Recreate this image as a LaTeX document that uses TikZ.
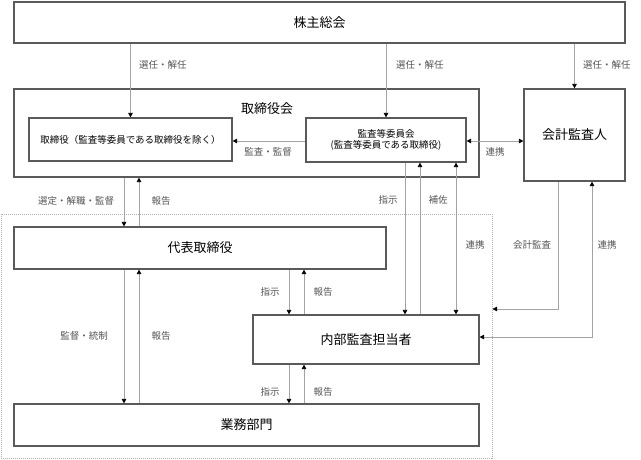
\documentclass[tikz,border=0pt]{standalone}
\usepackage{fontspec}
\setmainfont{Noto Sans CJK JP}
\usetikzlibrary{arrows.meta}
\definecolor{boxgray}{HTML}{5A5A5A}
\definecolor{linegray}{HTML}{A3A3A3}
\definecolor{txtgray}{HTML}{555555}
\tikzset{
  box/.style={draw=boxgray, line width=1.2pt, inner sep=0pt},
  frame/.style={draw=black!30, densely dotted, line width=1pt},
  conn/.style={draw=linegray, line width=0.8pt,
    -{Triangle[length=4.5pt, width=4.5pt, color=black]}},
  bothconn/.style={draw=linegray, line width=0.8pt,
    {Triangle[length=4.5pt, width=4.5pt, color=black]}-{Triangle[length=4.5pt, width=4.5pt, color=black]}},
  lbl/.style={font=\fontsize{9.5}{11}\selectfont, text=txtgray, inner sep=0pt},
  big/.style={font=\fontsize{13}{15}\selectfont},
  small/.style={font=\fontsize{9.5}{11.5}\selectfont, align=center}
}
\begin{document}
\begin{tikzpicture}[x=1pt,y=-1pt]
    \useasboundingbox (0,0) rectangle (641,460);
    % frames
    \node[frame, minimum width=491, minimum height=244] (company) at (246.5,336) {};
    \node[box, minimum width=465, minimum height=88] (board) at (246.5,133) {};
    \node[big] (boardtitle) at (267,109) {取締役会};
    % boxes
    \node[box, big, minimum width=611, minimum height=41] (shareholders) at (319.5,22.5) {株主総会};
    \node[box, small, minimum width=203, minimum height=43] (directors) at (130.5,139.5) {取締役（監査等委員である取締役を除く）};
    \node[box, small, minimum width=160, minimum height=44] (auditcomm) at (386,140) {監査等委員会\\(監査等委員である取締役)};
    \node[box, big, minimum width=101, minimum height=92] (accauditor) at (574.5,135) {会計監査人};
    \node[box, big, minimum width=372, minimum height=42] (rep) at (200,248) {代表取締役};
    \node[box, big, minimum width=226, minimum height=49] (internal) at (366,339.5) {内部監査担当者};
    \node[box, big, minimum width=465, minimum height=42] (ops) at (246.5,425) {業務部門};
    % from shareholders
    \draw[conn] (shareholders.south -| directors.north) -- (directors.north);
    \draw[conn] (shareholders.south -| auditcomm.north) -- (auditcomm.north);
    \draw[conn] (shareholders.south -| accauditor.north) -- (accauditor.north);
    \node[lbl, anchor=west] (l-sel1) at (139,65) {選任・解任};
    \node[lbl, anchor=west] (l-sel2) at (396,65) {選任・解任};
    \node[lbl, anchor=west] (l-sel3) at (583,65) {選任・解任};
    % audit committee
    \draw[conn] (auditcomm.west |- 0,141) -- (directors.east |- 0,141);
    \draw[bothconn] (auditcomm.east |- 0,141) -- (accauditor.west |- 0,141);
    \node[lbl] (l-audit) at (268,152) {監査・監督};
    \node[lbl] (l-coop1) at (495,152) {連携};
    % board and representative
    \draw[conn] (board.south -| 124,0) -- (rep.north -| 124,0);
    \draw[conn] (rep.north -| 139,0) -- (board.south -| 139,0);
    \node[lbl] (l-appoint) at (76,201) {選定・解職・監督};
    \node[lbl] (l-rep1) at (161,201) {報告};
    % representative and operations
    \draw[conn] (rep.south -| 124,0) -- (ops.north -| 124,0);
    \draw[conn] (ops.north -| 139,0) -- (rep.south -| 139,0);
    \node[lbl] (l-control) at (84,336) {監督・統制};
    \node[lbl] (l-rep2) at (161,336) {報告};
    % representative and internal audit
    \draw[conn] (rep.south -| 289,0) -- (internal.north -| 289,0);
    \draw[conn] (internal.north -| 304,0) -- (rep.south -| 304,0);
    \node[lbl] (l-inst1) at (270,292) {指示};
    \node[lbl] (l-rep3) at (323,292) {報告};
    % internal audit and operations
    \draw[conn] (internal.south -| 289,0) -- (ops.north -| 289,0);
    \draw[conn] (ops.north -| 304,0) -- (internal.south -| 304,0);
    \node[lbl] (l-inst2) at (270,392) {指示};
    \node[lbl] (l-rep4) at (323,392) {報告};
    % audit committee and internal audit
    \draw[conn] (auditcomm.south -| 405,0) -- (internal.north -| 405,0);
    \draw[conn] (internal.north -| 420,0) -- (auditcomm.south -| 420,0);
    \draw[bothconn] (auditcomm.south -| 456,0) -- (internal.north -| 456,0);
    \node[lbl] (l-inst3) at (388,200) {指示};
    \node[lbl] (l-assist) at (438,200) {補佐};
    \node[lbl] (l-coop2) at (475,245) {連携};
    % accounting auditor
    \draw[conn] (accauditor.south -| 558,0) |- (company.east |- 0,309);
    \draw[bothconn] (internal.east |- 0,337) -| (accauditor.south -| 592,0);
    \node[lbl] (l-accaudit) at (532,245) {会計監査};
    \node[lbl] (l-coop3) at (607,245) {連携};
\end{tikzpicture}
\end{document}
